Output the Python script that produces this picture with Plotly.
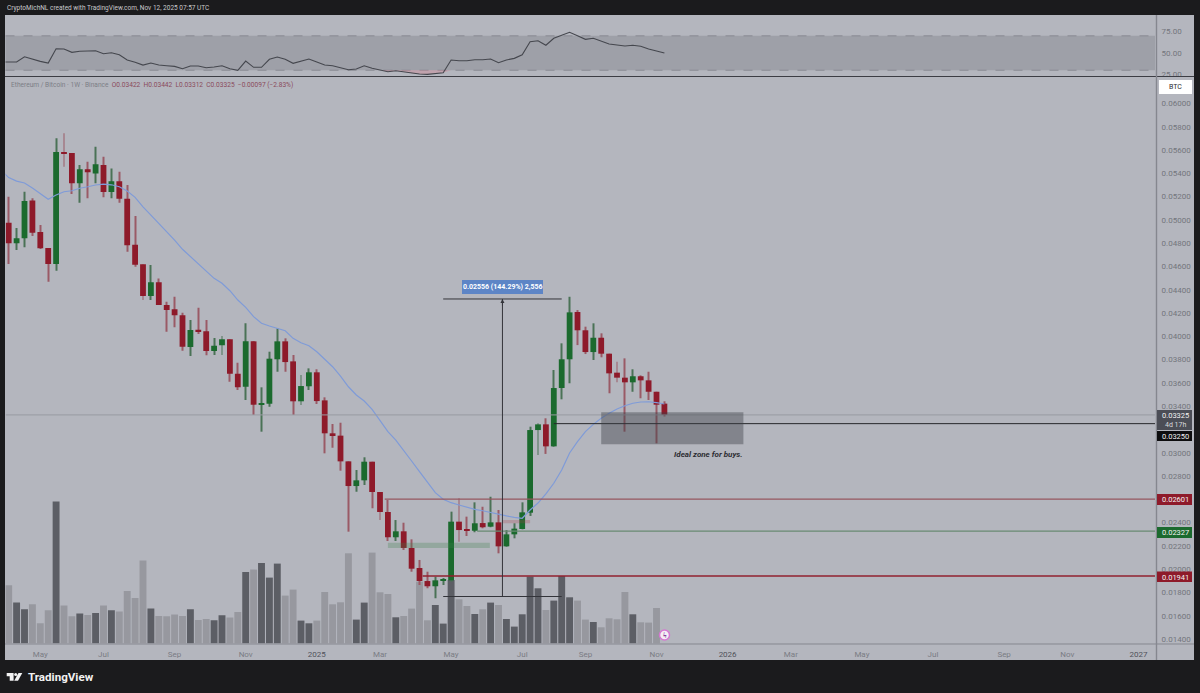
import pandas as pd
import plotly.graph_objects as go

# ETH/BTC weekly
start = pd.Timestamp("2024-04-08")


def wk(i):
    return start + pd.Timedelta(days=7 * i)


dates = [wk(i) for i in range(84)]

opens = [.04976, .04799, .04842, .05168, .04896, .04759, .04621, .05583, .05575, .05315,
         .05435, .05400, .05472, .05240, .05332, .05182, .04787, .04619, .04346, .04464,
         .04269, .04232, .04181, .03908, .04057, .04043, .03874, .03923, .03974, .03679,
         .03567, .03957, .03413, .03421, .03803, .03957, .03785, .03442, .03571, .03691,
         .03450, .03167, .03147, .02926, .02714, .02763, .02923, .02663, .02491, .02274,
         .02325, .02182, .02010, .01898, .01853, .01904, .01904, .02408, .02342, .02330,
         .02396, .02365, .02402, .02196, .02299, .02345, .02485, .03195, .03244, .03055,
         .03556, .03803, .04209, .04052, .03865, .03988, .03851, .03688, .03645, .03605,
         .03657, .03622, .03524, .03422]
highs = [.05199, .04930, .05242, .05186, .04956, .04759, .05701, .05744, .05575, .05472,
         .05500, .05629, .05543, .05443, .05414, .05300, .05034, .04619, .04613, .04498,
         .04297, .04340, .04203, .04140, .04246, .04140, .03986, .04003, .03974, .03773,
         .04112, .03957, .03562, .03868, .04069, .03983, .03840, .03668, .03725, .03717,
         .03476, .03247, .03258, .02926, .02852, .02961, .02923, .02663, .02594, .02422,
         .02399, .02256, .02079, .01978, .01935, .01924, .02494, .02609, .02451, .02574,
         .02536, .02622, .02508, .02336, .02394, .02574, .03224, .03253, .03296, .03711,
         .03940, .04340, .04226, .04083, .04112, .04026, .03851, .03782, .03811, .03717,
         .03665, .03696, .03524, .03442]
lows = [.04621, .04742, .04765, .04862, .04750, .04469, .04564, .05457, .05223, .05148,
        .05186, .05315, .05194, .05186, .05148, .04727, .04598, .04312, .04312, .04269,
        .04040, .04078, .03877, .03831, .04020, .03837, .03840, .03840, .03610, .03539,
        .03453, .03324, .03181, .03395, .03696, .03696, .03324, .03410, .03539, .03419,
        .02995, .03043, .02846, .02322, .02665, .02723, .02523, .02422, .02242, .02242,
        .02165, .01978, .01864, .01836, .01750, .01864, .01892, .02236, .02285, .02317,
        .02351, .02360, .02136, .02193, .02265, .02342, .02457, .02981, .02990, .03052,
        .03459, .03597, .03925, .03848, .03797, .03820, .03511, .03605, .03181, .03524,
        .03468, .03453, .03081, .03312]
closes = [.04799, .04842, .05162, .04890, .04756, .04621, .05583, .05572, .05315, .05435,
          .05409, .05478, .05240, .05332, .05182, .04782, .04615, .04346, .04464, .04269,
          .04226, .04181, .03911, .04054, .04040, .03874, .03919, .03974, .03679, .03562,
          .03957, .03413, .03425, .03808, .03957, .03779, .03442, .03573, .03691, .03444,
          .03167, .03144, .02926, .02714, .02763, .02923, .02663, .02491, .02274, .02325,
          .02182, .02004, .01898, .01853, .01904, .01913, .02408, .02336, .02330, .02394,
          .02360, .02402, .02196, .02299, .02348, .02488, .03195, .03244, .03055, .03556,
          .03803, .04206, .04052, .03865, .03988, .03851, .03682, .03645, .03605, .03657,
          .03622, .03524, .03413, .03325]
volumes = [580, 407, 340, 390, 200, 330, 1417, 377, 270, 297,
           283, 303, 377, 330, 317, 523, 453, 827, 347, 273,
           270, 287, 273, 340, 233, 243, 230, 280, 257, 313,
           713, 737, 803, 657, 797, 477, 537, 227, 200, 227,
           513, 390, 410, 900, 237, 407, 907, 510, 493, 260,
           273, 347, 617, 230, 383, 197, 633, 440, 373, 293,
           340, 407, 383, 243, 167, 290, 667, 550, 333, 427,
           673, 460, 427, 237, 213, 160, 250, 240, 513, 290,
           210, 207, 353, 0]

# the two lines start one week before the first candle, off the left edge
line_dates = [wk(-1)] + dates
ma_values = [.05429, .05364, .05334, .05317, .05274, .05223, .05177, .05214, .05242, .05251, .05272,
             .05285, .05300, .05308, .05302, .05285, .05248, .05194, .05113, .05042, .04971,
             .04899, .04827, .04748, .04684, .04621, .04555, .04498, .04456, .04392, .04312,
             .04249, .04169, .04112, .04089, .04069, .04048, .03983, .03945, .03919, .03868,
             .03803, .03739, .03659, .03567, .03496, .03444, .03373, .03275, .03181, .03109,
             .03024, .02929, .02837, .02751, .02657, .02600, .02571, .02551, .02530, .02514,
             .02502, .02485, .02471, .02457, .02445, .02437, .02508, .02568, .02646, .02738,
             .02852, .02998, .03095, .03181, .03244, .03296, .03339, .03376, .03404, .03425,
             .03436, .03438, .03430, .03419]
rsi_values = [39.5, 39.2, 39.5, 45.7, 42.7, 40.3, 38.4, 55, 54.7, 50.8, 52,
              52.1, 52.7, 49.2, 50.3, 48, 41.9, 39.2, 36, 38.4, 36,
              35.2, 34.5, 31.7, 34.9, 34.9, 32.9, 33.7, 35.2, 31.7, 29.9,
              40.7, 33.4, 33.4, 42.7, 45.3, 42.7, 38, 40.7, 43, 39.5,
              36, 35.2, 32.6, 30.6, 31.4, 35.2, 32.2, 30.2, 28.3, 29.4,
              28.3, 26.4, 25.6, 25.2, 26.4, 27.1, 41.9, 41, 41, 42.2,
              42.2, 43, 38.7, 41.9, 43.8, 48, 63.1, 64.3, 59, 67.1,
              70.6, 74.1, 70.1, 65.9, 67.1, 64, 60.5, 59.3, 58.1, 59,
              57.8, 54.7, 52.3, 50]

# .032 and .026 sit under the badges in the screenshot, so no label for them
price_ticks = [.060, .058, .056, .054, .052, .050, .048, .046, .044, .042, .040, .038,
               .036, .034, .030, .028, .024, .022, .020, .018, .016, .014]
price_labels = ["%.5f" % p for p in price_ticks]
rsi_ticks = [25, 50, 75]
rsi_labels = ["25.00", "50.00", "75.00"]
time_ticks = ["2024-05-06", "2024-07-01", "2024-09-02", "2024-11-04", "2025-01-06", "2025-03-03",
              "2025-05-05", "2025-07-07", "2025-09-01", "2025-11-03", "2026-01-05", "2026-03-02",
              "2026-05-04", "2026-07-06", "2026-09-07", "2026-11-02", "2027-01-04"]
time_labels = ["May", "Jul", "Sep", "Nov", "2025", "Mar", "May", "Jul", "Sep", "Nov", "2026",
               "Mar", "May", "Jul", "Sep", "Nov", "2027"]

FONT = "Roboto"
BG = "#1b1b1d"
PANE = "#b4b6be"
RED = "#8e1a2a"
GREEN = "#1b6a2e"
GREY_TEXT = "#73757c"
W, H = 1200, 693
PX_MS = 76.5e6  # one screen pixel on the time axis, in ms


def px(x):
    return x / W


def py(y):
    return 1 - y / H


time_text = []
for t in time_labels:
    if t.isdigit():
        time_text.append('<span style="color:#50525a">%s</span>' % t)
    else:
        time_text.append(t)

is_up = [c >= o for o, c in zip(opens, closes)]
vol_colors = ["#5c5e65" if u else "#97989f" for u in is_up]
wick_colors = ["#4a7256" if u else "#9a5a66" for u in is_up]
body_colors = [GREEN if u else RED for u in is_up]

fig = go.Figure()

fig.add_trace(go.Bar(x=dates, y=volumes, marker_color=vol_colors, marker_line_width=0,
                     width=6.9 * PX_MS, yaxis="y", xaxis="x"))

# candles as two bar layers, go.Candlestick has no way to set the body width
fig.add_trace(go.Bar(x=dates, base=lows, y=[h - l for h, l in zip(highs, lows)],
                     marker_color=wick_colors, marker_line_width=0,
                     width=1.0 * PX_MS, yaxis="y2", xaxis="x"))
fig.add_trace(go.Bar(x=dates, base=[min(o, c) for o, c in zip(opens, closes)],
                     y=[abs(o - c) for o, c in zip(opens, closes)],
                     marker_color=body_colors, marker_line_width=0,
                     width=5.8 * PX_MS, yaxis="y2", xaxis="x"))

fig.add_trace(go.Scatter(x=line_dates, y=ma_values, mode="lines", yaxis="y2", xaxis="x",
                         line=dict(color="#7f9bd8", width=1.2)))

# RSI pane, with the small pink fill where it drops under 30
fig.add_trace(go.Scatter(x=line_dates, y=[30] * len(line_dates), mode="lines", yaxis="y3", xaxis="x",
                         line=dict(width=0)))
fig.add_trace(go.Scatter(x=line_dates, y=[min(v, 30) for v in rsi_values], mode="lines", yaxis="y3",
                         xaxis="x", line=dict(width=0), fill="tonexty",
                         fillcolor="rgba(214,130,145,0.38)"))
fig.add_trace(go.Scatter(x=line_dates, y=rsi_values, mode="lines", yaxis="y3", xaxis="x",
                         line=dict(color="#45474e", width=1.1)))

shapes = []
notes = []


def box(x0, y0, x1, y1, color, layer="above"):
    shapes.append(dict(type="rect", xref="paper", yref="paper", x0=px(x0), x1=px(x1), y0=py(y0), y1=py(y1),
                       fillcolor=color, line_width=0, layer=layer))


def note(x, y, text, size, color, anchor="left", bold=False):
    if bold:
        text = "<b>%s</b>" % text
    notes.append(dict(xref="paper", yref="paper", x=px(x), y=py(y), text=text, showarrow=False,
                      xanchor=anchor, yanchor="middle", borderpad=0,
                      font=dict(family=FONT, size=size, color=color)))


def hline(i0, price, color, width):
    shapes.append(dict(type="line", xref="x", yref="y2", x0=wk(i0), x1=wk(145.1), y0=price, y1=price,
                       line=dict(color=color, width=width)))


def data_box(i0, i1, p0, p1, color):
    shapes.append(dict(type="rect", xref="x", yref="y2", x0=wk(i0), x1=wk(i1), y0=p0, y1=p1,
                       fillcolor=color, line_width=0))


# panes behind everything
box(5, 15, 1194, 660, PANE, layer="below")
shapes.append(dict(type="rect", xref="paper", yref="y3", x0=px(5.5), x1=px(1155), y0=30, y1=70,
                   fillcolor="rgba(88,90,100,0.24)", line_width=0, layer="below"))
for lvl in [30, 70]:
    shapes.append(dict(type="line", xref="paper", yref="y3", x0=px(5.5), x1=px(1155), y0=lvl, y1=lvl,
                       line=dict(color="#80828a", width=0.8, dash="dash"), layer="below"))

# last price line, levels and zones
hline(-0.4, .03325, "#989aa2", 1)
hline(69, .03250, "#26272b", 1)
hline(47.6, .02601, "#96565f", 1.2)
hline(59.3, .02327, "#688a72", 1.2)
hline(52.4, .01941, "#92202f", 1.5)
data_box(75, 93, .03073, .03347, "rgba(62,64,72,0.42)")
data_box(48, 60.9, .02182, .02227, "rgba(60,130,75,0.28)")
data_box(62.5, 66, .02394, .02422, "rgba(170,60,70,0.25)")

# measure tool
for p in [.04321, .01765]:
    shapes.append(dict(type="line", xref="x", yref="y2", x0=wk(55), x1=wk(70), y0=p, y1=p,
                       line=dict(color="#33343a", width=1)))
shapes.append(dict(type="line", xref="x", yref="y2", x0=wk(62.5), x1=wk(62.5), y0=.01765, y1=.04321,
                   line=dict(color="#33343a", width=1)))
notes.append(dict(xref="x", yref="y2", x=wk(62.5), y=.04321, ax=0, ay=8, text="", showarrow=True,
                  arrowhead=2, arrowsize=1, arrowwidth=0.8, arrowcolor="#33343a"))
box(462, 280, 543, 294, "#5d85c6")
note(502.5, 287, "0.02556 (144.29%) 2,556", 7, "#ffffff", anchor="center", bold=True)

notes.append(dict(xref="x", yref="y2", x=wk(84), y=.02985, text="<b><i>Ideal zone for buys.</i></b>",
                  showarrow=False, xanchor="left", yanchor="middle",
                  font=dict(family=FONT, size=8, color="#2c2d33")))

# separators
shapes.append(dict(type="line", xref="paper", yref="paper", x0=px(5), x1=px(1194), y0=py(76.5), y1=py(76.5),
                   line=dict(color="#3c3d44", width=1.2)))
shapes.append(dict(type="line", xref="paper", yref="paper", x0=px(5), x1=px(1194), y0=py(644), y1=py(644),
                   line=dict(color="#85878f", width=1)))
shapes.append(dict(type="line", xref="paper", yref="paper", x0=px(1156.5), x1=px(1156.5), y0=py(15), y1=py(660),
                   line=dict(color="#85878f", width=1.4)))

# right-hand price badges
box(1159, 80, 1192, 94, "#ffffff")
note(1175.5, 87, "BTC", 7, "#2a2b30", anchor="center")
box(1157, 410, 1192, 430, "#4b4d56")
note(1175, 415.3, "0.03325", 7.5, "#f2f2f2", anchor="center")
note(1175, 425, "4d 17h", 7, "#d8d9dd", anchor="center")
box(1157, 431, 1192, 441, "#0d0d0f")
note(1175, 436, "0.03250", 7.5, "#f2f2f2", anchor="center")
box(1157, 494, 1192, 505, RED)
note(1175, 499.5, "0.02601", 7.5, "#f2f2f2", anchor="center")
box(1157, 527, 1192, 538, GREEN)
note(1175, 532.5, "0.02327", 7.5, "#f2f2f2", anchor="center")
box(1157, 571.5, 1192, 582, RED)
note(1175, 577, "0.01941", 7.5, "#f2f2f2", anchor="center")

# header, legend, footer text
note(6, 7.5, "CryptoMichNL created with TradingView.com, Nov 12, 2025 07:57 UTC", 6.5, "#c9c9cb")
note(9.5, 85.5, '<span style="color:#7c7e86">Ethereum / Bitcoin · 1W · Binance</span>\u00a0\u00a0'
     '<span style="color:#8a4a5c">O0.03422\u00a0\u00a0H0.03442\u00a0\u00a0L0.03312\u00a0\u00a0C0.03325'
     '\u00a0\u00a0−0.00097 (−2.83%)</span>', 6.6, "#7c7e86")
note(26.5, 676.5, "TradingView", 11.6, "#f2f2f2", bold=True)

# TradingView mark
shapes.append(dict(type="path", xref="paper", yref="paper", fillcolor="#f2f2f2", line_width=0,
                   path="M %f,%f L %f,%f L %f,%f L %f,%f L %f,%f L %f,%f Z" % (
                       px(6.7), py(673), px(13.6), py(673), px(13.6), py(680.7),
                       px(9.7), py(680.7), px(9.7), py(676.2), px(6.7), py(676.2))))
shapes.append(dict(type="path", xref="paper", yref="paper", fillcolor="#f2f2f2", line_width=0,
                   path="M %f,%f L %f,%f L %f,%f L %f,%f Z" % (
                       px(18.5), py(673), px(22.3), py(673), px(18), py(680.7), px(14.2), py(680.7))))
shapes.append(dict(type="circle", xref="paper", yref="paper", fillcolor="#f2f2f2", line_width=0,
                   x0=px(14.2), x1=px(17.2), y0=py(673), y1=py(676)))

# little flash icon on the last bar
shapes.append(dict(type="circle", xref="paper", yref="paper", fillcolor="#f5eef5",
                   line=dict(color="#d678d2", width=1.5),
                   x0=px(659.5), x1=px(669.5), y0=py(640), y1=py(630)))
note(664.5, 635, "ϟ", 8, "#8a3f9e", anchor="center", bold=True)

fig.update_layout(
    # three extra pixels: the plot area came out 3px short at the bottom otherwise
    width=W, height=H + 3,
    margin=dict(l=0, r=0, t=0, b=0),
    paper_bgcolor=BG, plot_bgcolor=PANE,
    showlegend=False, hovermode=False,
    barmode="overlay",
    font=dict(family=FONT, size=8, color=GREY_TEXT),
    shapes=shapes, annotations=notes,
    xaxis=dict(type="date", domain=[px(5.5), px(1155)], anchor="y",
               range=[wk(-0.405).strftime("%Y-%m-%d %H:%M"), wk(145.1).strftime("%Y-%m-%d %H:%M")],
               tickmode="array", tickvals=time_ticks, ticktext=time_text,
               tickfont=dict(size=8, color="#7a7c84"), ticks="outside", ticklen=2, tickcolor="rgba(0,0,0,0)",
               showgrid=False, zeroline=False, showline=False),
    # volume sits on the primary axis so the candles draw over it
    yaxis=dict(domain=[py(644), py(77)], range=[-7, 5663], visible=False, fixedrange=True),
    yaxis2=dict(domain=[py(644), py(77)], overlaying="y", side="right", anchor="x",
                range=[.01357, .06228], tickmode="array", tickvals=price_ticks, ticktext=price_labels,
                tickfont=dict(size=8, color=GREY_TEXT), showgrid=False, zeroline=False, showline=False,
                ticks="outside", ticklen=4, tickcolor="rgba(0,0,0,0)"),
    yaxis3=dict(domain=[py(76), py(15)], side="right", anchor="x", range=[23.3, 94.2],
                tickmode="array", tickvals=rsi_ticks, ticktext=rsi_labels,
                tickfont=dict(size=8, color=GREY_TEXT), showgrid=False, zeroline=False, showline=False,
                ticks="outside", ticklen=4, tickcolor="rgba(0,0,0,0)"),
)

# no page margin or scrollbar, the figure has to fill the window exactly
post = ("document.documentElement.style.overflow='hidden';"
        "document.body.style.margin='0';document.body.style.overflow='hidden';"
        "document.body.style.height='693px';")
fig.write_html("out.html", post_script=post, config={"displayModeBar": False})
